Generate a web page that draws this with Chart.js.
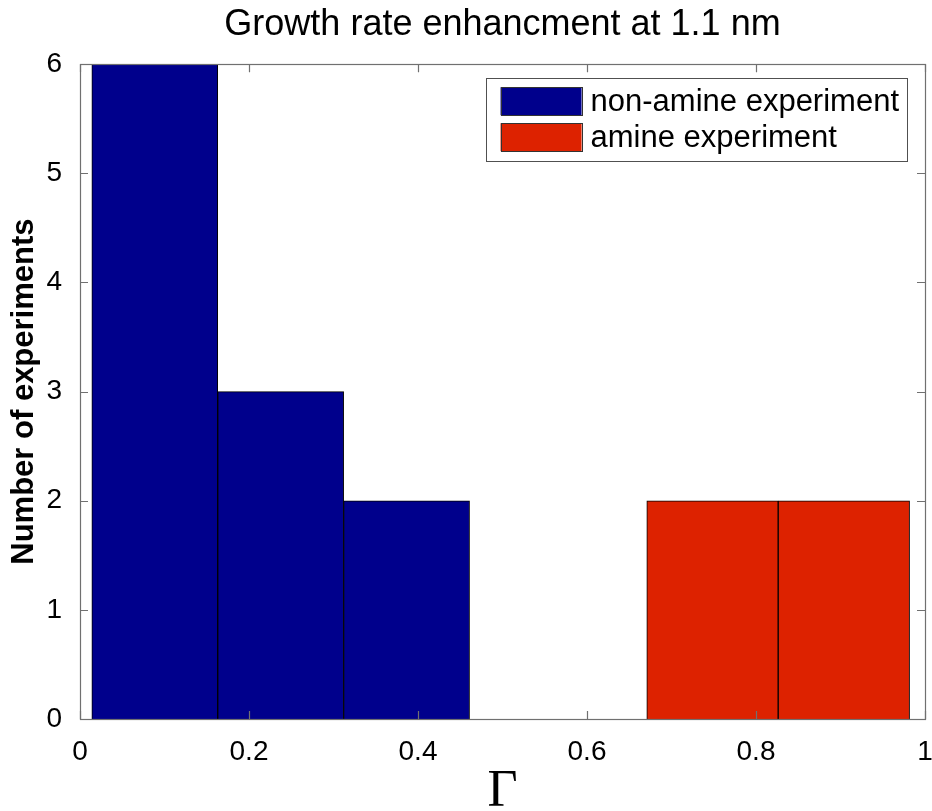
<!DOCTYPE html>
<html>
	<head>
		<meta charset="UTF-8">
		<style>
			html, body { margin: 0; padding: 0; background: #fff; }
			#wrap { width: 932px; height: 811px; }
		</style>
	</head>
	<script src="https://cdn.jsdelivr.net/npm/chart.js@4/dist/chart.umd.min.js"></script>
	<body>
		<div id="wrap"><canvas id="myChart"></canvas></div>
		<script>
			// histogram bins (edges on the Γ axis) and counts
			const nonAmineEdges = [0.014, 0.163, 0.312, 0.461];
			const nonAmineCounts = [6, 3, 2];
			const amineEdges = [0.671, 0.826, 0.982];
			const amineCounts = [2, 2];

			const xTicks = [0, 0.2, 0.4, 0.6, 0.8, 1];
			const yTicks = [0, 1, 2, 3, 4, 5, 6];

			// bars are placed at bin centres, width comes from the bin spacing
			function toBins(edges, counts) {
				let pts = [];
				for (let i = 0; i < counts.length; i++) {
					pts.push({x: (edges[i] + edges[i + 1]) / 2, y: counts[i]});
				}
				return pts;
			}

			// axis box with inward ticks on all four sides
			const boxAxes = {
				id: 'boxAxes',
				afterDatasetsDraw(chart) {
					const ctx = chart.ctx;
					const a = chart.chartArea;
					const sx = chart.scales.x;
					const sy = chart.scales.y;
					const len = 8;
					ctx.save();
					ctx.strokeStyle = '#707070';
					ctx.lineWidth = 1.2;
					ctx.beginPath();
					xTicks.forEach(v => {
						const px = Math.round(sx.getPixelForValue(v)) + 0.5;
						ctx.moveTo(px, a.bottom); ctx.lineTo(px, a.bottom - len);
						ctx.moveTo(px, a.top); ctx.lineTo(px, a.top + len);
					});
					yTicks.forEach(v => {
						const py = Math.round(sy.getPixelForValue(v)) + 0.5;
						ctx.moveTo(a.left, py); ctx.lineTo(a.left + len, py);
						ctx.moveTo(a.right, py); ctx.lineTo(a.right - len, py);
					});
					ctx.stroke();
					ctx.strokeRect(Math.round(a.left) + 0.5, Math.round(a.top) + 0.5,
						Math.round(a.right - a.left), Math.round(a.bottom - a.top));
					ctx.restore();
				}
			};

			// framed legend in the top right corner of the plot
			const boxLegend = {
				id: 'boxLegend',
				afterDraw(chart) {
					const ctx = chart.ctx;
					const a = chart.chartArea;
					const ds = chart.data.datasets;
					const font = '31px "Liberation Sans", Arial, sans-serif';
					const swW = 81, swH = 28, rowH = 36;
					ctx.save();
					ctx.font = font;
					let tw = 0;
					ds.forEach(d => { tw = Math.max(tw, ctx.measureText(d.label).width); });
					const w = 15 + swW + 9 + tw + 8;
					const h = 9 + rowH * ds.length + 2;
					const right = a.right - 18;
					const left = right - w;
					const top = a.top + 14;
					ctx.fillStyle = '#fff';
					ctx.fillRect(left, top, w, h);
					ctx.strokeStyle = '#505050';
					ctx.lineWidth = 1;
					ctx.strokeRect(Math.round(left) + 0.5, Math.round(top) + 0.5, Math.round(w), Math.round(h));
					ds.forEach((d, i) => {
						const y = top + 9 + i * rowH;
						ctx.fillStyle = d.backgroundColor;
						ctx.fillRect(left + 15, y, swW, swH);
						ctx.strokeStyle = '#333';
						ctx.strokeRect(Math.round(left + 15) + 0.5, Math.round(y) + 0.5, swW, swH);
						ctx.fillStyle = '#000';
						ctx.textBaseline = 'middle';
						ctx.fillText(d.label, left + 15 + swW + 9, y + swH / 2 + 1);
					});
					ctx.restore();
				}
			};

			const tickFont = {family: '"Liberation Sans", Arial, sans-serif', size: 28};
			const fmtTick = v => String(Math.round(v * 10) / 10);

			new Chart("myChart", {
				type: "bar",
				data: {
					datasets: [
						{
							label: "non-amine experiment",
							data: toBins(nonAmineEdges, nonAmineCounts),
							backgroundColor: "#00008c",
							borderColor: "#000000",
							borderWidth: 1,
							xAxisID: "x",
							grouped: false,
							categoryPercentage: 1,
							barPercentage: 1
						},
						{
							label: "amine experiment",
							data: toBins(amineEdges, amineCounts),
							backgroundColor: "#dd2200",
							borderColor: "#000000",
							borderWidth: 1,
							xAxisID: "x2",
							grouped: false,
							categoryPercentage: 1,
							barPercentage: 1
						}
					]
				},
				options: {
					responsive: true,
					maintainAspectRatio: false,
					animation: false,
					layout: {padding: {top: 0, right: 7, left: 0, bottom: 0}},
					plugins: {
						legend: {display: false},
						tooltip: {enabled: false},
						title: {
							display: true,
							fullSize: false,
							text: "Growth rate enhancment at 1.1 nm",
							color: "#000",
							font: {family: '"Liberation Sans", Arial, sans-serif', size: 36, weight: 'normal', lineHeight: 1.2},
							padding: {top: 3, bottom: 18}
						}
					},
					scales: {
						x: {
							type: "linear",
							position: "bottom",
							offset: false,
							min: 0, max: 1,
							afterBuildTicks: s => { s.ticks = xTicks.map(v => ({value: v})); },
							afterFit: s => { s.height = 92; s.paddingLeft = 0; s.paddingRight = 0; },
							ticks: {color: "#000", font: tickFont, padding: 8, maxRotation: 0, callback: fmtTick},
							grid: {display: false, offset: false},
							border: {display: false},
							title: {
								display: true,
								text: "Γ",
								color: "#000",
								font: {family: '"Liberation Serif", "Times New Roman", serif', size: 52, lineHeight: 0.7},
								padding: 0
							}
						},
						x2: {
							type: "linear",
							display: false,
							offset: false,
							min: 0, max: 1,
							afterBuildTicks: s => { s.ticks = xTicks.map(v => ({value: v})); },
							grid: {offset: false}
						},
						y: {
							min: 0, max: 6,
							afterBuildTicks: s => { s.ticks = yTicks.map(v => ({value: v})); },
							afterFit: s => { s.width = 80; s.paddingTop = 0; s.paddingBottom = 0; },
							ticks: {color: "#000", font: tickFont, padding: 10},
							grid: {display: false},
							border: {display: false},
							title: {
								display: true,
								text: "Number of experiments",
								color: "#000",
								font: {family: '"Liberation Sans", Arial, sans-serif', size: 31, weight: 'bold', lineHeight: 1.2},
								padding: {top: 6, bottom: 0}
							}
						}
					}
				},
				plugins: [boxAxes, boxLegend]
			});
		</script>
	</body>
</html>
